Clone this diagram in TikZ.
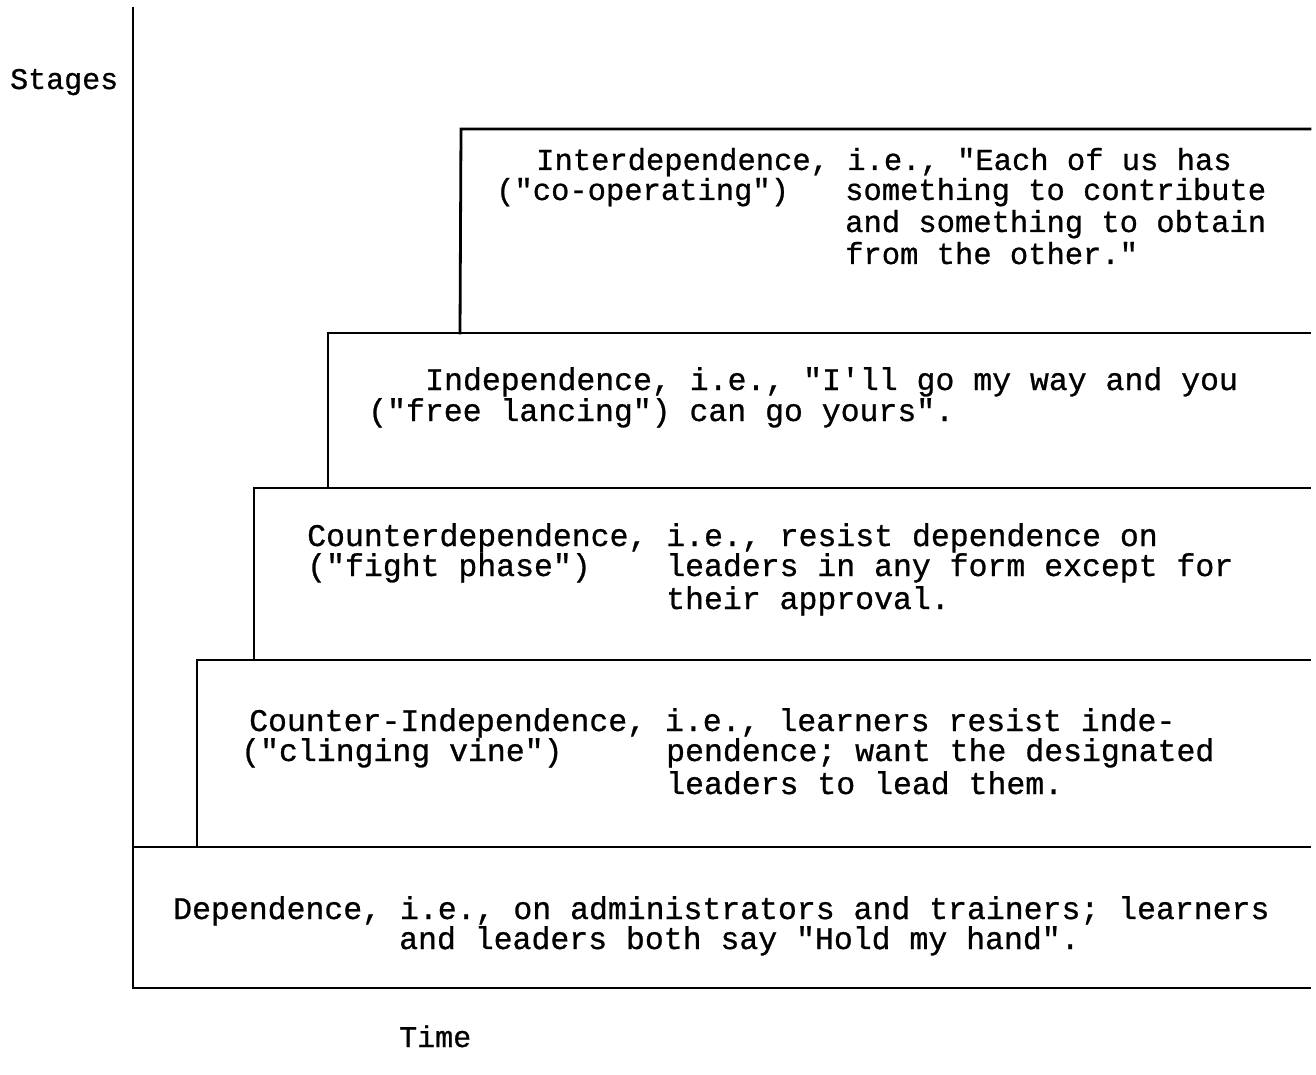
\documentclass[tikz,border=0pt]{standalone}
\usepackage{fontspec}
\newfontfamily\tw[FakeBold=0.8]{Liberation Mono}
\begin{document}
\begin{tikzpicture}[x=1pt,y=-1pt,
  lbl/.style={anchor=base west, inner sep=0pt, font=\tw\frenchspacing\fontsize{31.5}{32}\selectfont},
  lblS/.style={lbl, font=\tw\frenchspacing\fontsize{30.5}{32}\selectfont},
  lblA/.style={lbl, font=\tw\frenchspacing\fontsize{30}{32}\selectfont},
  rule/.style={line width=2.8pt, line cap=rect, line join=miter}]
\useasboundingbox (0,0) rectangle (1316,1075);

% axis and frame
\coordinate (top) at (133,8);
\coordinate (origin) at (133,988);
\coordinate (xend) at (1310,988);
\draw[rule] (top) -- (origin) -- (xend);

% stair steps
\coordinate (d1) at (133,847);  \coordinate (d2) at (1310,847);
\coordinate (ci0) at (197,847); \coordinate (ci1) at (197,660); \coordinate (ci2) at (1310,660);
\coordinate (cd0) at (254,660); \coordinate (cd1) at (254,488); \coordinate (cd2) at (1310,488);
\coordinate (in0) at (328,488); \coordinate (in1) at (328,333); \coordinate (in2) at (1310,333);
\coordinate (it0) at (460,333); \coordinate (it1) at (461,129); \coordinate (it2) at (1310,129);
\draw[rule] (d1) -- (d2);
\draw[rule] (ci0) -- (ci1) -- (ci2);
\draw[rule] (cd0) -- (cd1) -- (cd2);
\draw[rule] (in0) -- (in1) -- (in2);
\draw[rule] (it0) -- (it1) -- (it2);

% axis labels
\node[lblA] (stages) at (10,89) {Stages};
\node[lblA] (time) at (399,1047) {Time};

% Interdependence
\node[lblS] (it1t) at (536,170) {Interdependence, i.e., "Each of us has};
\node[lblS] (it2t) at (496,200) {("co-operating")};
\node[lblS] (it2d) at (845,200) {something to contribute};
\node[lblS] (it3d) at (845,232) {and something to obtain};
\node[lblS] (it4d) at (845,264) {from the other."};

% Independence
\node[lbl] (in1t) at (425,390) {Independence, i.e., "I'll go my way and you};
\node[lbl] (in2t) at (368,421) {("free lancing") can go yours".};

% Counterdependence
\node[lbl] (cd1t) at (307,546) {Counterdependence, i.e., resist dependence on};
\node[lbl] (cd2t) at (307,576) {("fight phase")};
\node[lbl] (cd2d) at (666,576) {leaders in any form except for};
\node[lbl] (cd3d) at (666,609) {their approval.};

% Counter-Independence
\node[lbl] (ci1t) at (249,731) {Counter-Independence, i.e., learners resist inde-};
\node[lbl] (ci2t) at (241,761) {("clinging vine")};
\node[lbl] (ci2d) at (666,761) {pendence; want the designated};
\node[lbl] (ci3d) at (666,794) {leaders to lead them.};

% Dependence
\node[lbl] (de1t) at (173,919) {Dependence, i.e., on administrators and trainers; learners};
\node[lbl] (de2t) at (399,949) {and leaders both say "Hold my hand".};
\end{tikzpicture}
\end{document}
